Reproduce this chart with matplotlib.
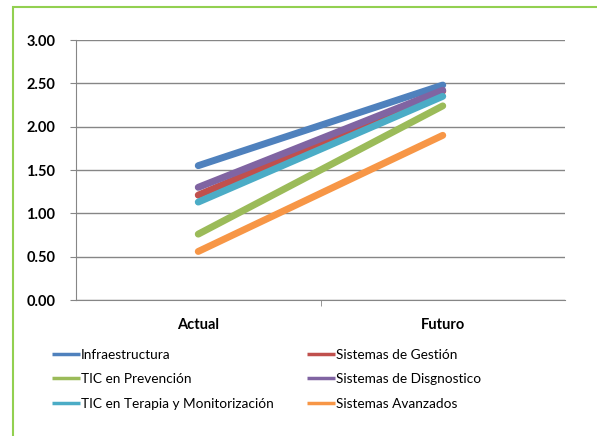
import matplotlib.pyplot as plt
from matplotlib.patches import Rectangle

plt.rcParams['font.family'] = ['Lato', 'DejaVu Sans']

categories = ['Actual', 'Futuro']
series = ['Infraestructura', 'Sistemas de Gestión', 'TIC en Prevención',
          'Sistemas de Disgnostico', 'TIC en Terapia y Monitorización',
          'Sistemas Avanzados']
values = {
    'Infraestructura': [1.55, 2.48],
    'Sistemas de Gestión': [1.21, 2.41],
    'TIC en Prevención': [0.76, 2.24],
    'Sistemas de Disgnostico': [1.30, 2.42],
    'TIC en Terapia y Monitorización': [1.13, 2.35],
    'Sistemas Avanzados': [0.56, 1.90],
}
colors = ['#4F81BD', '#C0504D', '#9BBB59', '#8064A2', '#4BACC6', '#F79646']
yticks = [0.0, 0.5, 1.0, 1.5, 2.0, 2.5, 3.0]

fig = plt.figure(figsize=(5.97, 4.36), dpi=100)
ax = fig.add_axes([76 / 597, 1 - 300 / 436, (565 - 76) / 597, 260 / 436])

x = [0, 1]
lines = []
for name, c in zip(series, colors):
    ln, = ax.plot(x, values[name], color=c, lw=5, solid_capstyle='round', label=name)
    lines.append(ln)

ax.set_xlim(-0.5, 1.5)
ax.set_ylim(0, 3)
ax.set_yticks(yticks)
ax.set_yticklabels([f'{v:.2f}' for v in yticks], fontweight='bold', fontsize=10.5)
ax.set_xticks(x)
ax.set_xticklabels(categories, fontweight='bold', fontsize=10.5)
ax.tick_params(axis='x', length=0, pad=13)
ax.set_xticks([0.5], minor=True)
ax.tick_params(axis='x', which='minor', length=4, color='#868686', direction='out')
ax.tick_params(axis='y', length=4, color='#868686', direction='out', pad=11)
ax.yaxis.grid(True, color='#868686', lw=1)
ax.set_axisbelow(True)
for s in ['top', 'right']:
    ax.spines[s].set_visible(False)
for s in ['left', 'bottom']:
    ax.spines[s].set_color('#868686')

# legend is filled row by row in the original, matplotlib fills columns
order = [0, 2, 4, 1, 3, 5]
leg = fig.legend([lines[i] for i in order], [series[i] for i in order],
                 loc='upper left', bbox_to_anchor=(52 / 597, 1 - 349 / 436), ncol=2,
                 frameon=False, fontsize=9.8, handlelength=2.05, handletextpad=0.05,
                 columnspacing=2.5, labelspacing=0.9, borderaxespad=0, borderpad=0)
for ln in leg.get_lines():
    ln.set_linewidth(2.5)
    ln.set_solid_capstyle('butt')

fig.patches.append(Rectangle((13 / 597, -0.1), 1.2, 1 - 7 / 436 + 0.1,
                             transform=fig.transFigure, fill=False,
                             edgecolor='#92D050', lw=1.5))

fig.savefig('out.png', dpi=100)
